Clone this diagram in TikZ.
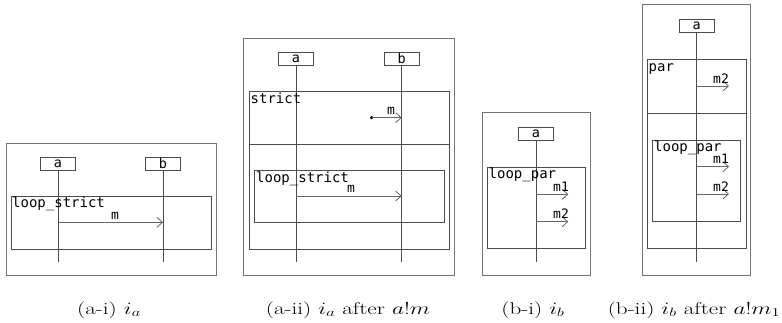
\documentclass[tikz,border=0pt]{standalone}
\usepackage{fontspec}
\usepackage{graphicx}
\newfontfamily\monof{DejaVu Sans Mono}
\usetikzlibrary{arrows.meta}
\newcommand{\capwide}[1]{\scalebox{1.36}[1]{#1}}
\begin{document}
\begin{tikzpicture}[x=1pt,y=-1pt,
  outer/.style={draw=black!55, line width=0.8pt},
  frame/.style={draw=black!70, line width=0.8pt},
  life/.style={draw=black!70, line width=0.8pt},
  obj/.style={draw=black!70, line width=0.8pt, minimum width=35pt, minimum height=13pt, inner sep=0pt, font=\monof\fontsize{13.5}{13.5}\selectfont},
  msg/.style={draw=black!60, line width=0.8pt, -{Straight Barb[length=5.5pt,width=10pt]}},
  mlabel/.style={font=\monof\fontsize{13}{13}\selectfont, inner sep=0pt, anchor=base},
  flabel/.style={font=\monof\fontsize{14}{14}\selectfont, inner sep=0pt, anchor=base west},
  captext/.style={font=\fontsize{17}{20}\selectfont, inner sep=0pt, anchor=base}]
\useasboundingbox (0,0) rectangle (782,323);

% ---------- (a-i)
\draw[outer] (6,143) rectangle (216,275);
\node[obj] (a1) at (58,163.7) {a};
\node[obj] (b1) at (163,163.7) {b};
\coordinate (a1e) at (58,262);
\coordinate (b1e) at (163,262);
\draw[life] (a1) -- (a1e);
\draw[life] (b1) -- (b1e);
\draw[frame] (11,196) rectangle (211,249);
\node[flabel] (f1) at (12,208) {loop\_strict};
\coordinate (s1) at (58,222.3);
\coordinate (t1) at (163,222.3);
\draw[msg] (s1) -- (t1);
\node[mlabel] (l1) at (115,219.3) {m};

% ---------- (a-ii)
\draw[outer] (243.3,38.3) rectangle (454,275);
\node[obj] (a2) at (296,58.7) {a};
\node[obj] (b2) at (401.7,58.7) {b};
\coordinate (a2e) at (296,261.7);
\coordinate (b2e) at (401.7,261.7);
\draw[life] (a2) -- (a2e);
\draw[life] (b2) -- (b2e);
\draw[frame] (249,91) rectangle (449.3,249);
\coordinate (sepL) at (249,144);
\coordinate (sepR) at (449.3,144);
\draw[frame] (sepL) -- (sepR);
\node[flabel] (f2) at (250.5,103.5) {strict};
\coordinate (s2) at (371.7,117.7);
\coordinate (t2) at (401.7,117.7);
\fill[black] (s2) circle (1.8);
\draw[msg] (s2) -- (t2);
\node[mlabel] (l2) at (391,114.7) {m};
\draw[frame] (254.3,170.7) rectangle (444.3,222.7);
\node[flabel] (f3) at (256,183) {loop\_strict};
\coordinate (s3) at (296,196);
\coordinate (t3) at (401.7,196);
\draw[msg] (s3) -- (t3);
\node[mlabel] (l3) at (351,193) {m};

% ---------- (b-i)
\draw[outer] (482.3,112.3) rectangle (590,275.7);
\node[obj] (a3) at (536,133.7) {a};
\coordinate (a3e) at (536,261.7);
\draw[life] (a3) -- (a3e);
\draw[frame] (487.3,167) rectangle (585,248.3);
\node[flabel] (f4) at (488.5,179) {loop\_par};
\coordinate (s4) at (536,194.3);
\coordinate (t4) at (568.3,194.3);
\draw[msg] (s4) -- (t4);
\node[mlabel] (l4) at (561,191.5) {m1};
\coordinate (s5) at (536,221.7);
\coordinate (t5) at (568.3,221.7);
\draw[msg] (s5) -- (t5);
\node[mlabel] (l5) at (561,218.9) {m2};

% ---------- (b-ii)
\draw[outer] (642.3,4.7) rectangle (750.7,275.7);
\node[obj] (a4) at (696.7,25.8) {a};
\coordinate (a4e) at (696.7,261.7);
\draw[life] (a4) -- (a4e);
\draw[frame] (647.3,59.3) rectangle (746,248.3);
\coordinate (sep2L) at (647.3,113.3);
\coordinate (sep2R) at (746,113.3);
\draw[frame] (sep2L) -- (sep2R);
\node[flabel] (f5) at (648.5,71.8) {par};
\coordinate (s6) at (696.7,86);
\coordinate (t6) at (729,86);
\draw[msg] (s6) -- (t6);
\node[mlabel] (l6) at (721,83.2) {m2};
\draw[frame] (652.7,140) rectangle (740.7,221);
\node[flabel] (f6) at (654,152) {loop\_par};
\coordinate (s7) at (696.7,166.7);
\coordinate (t7) at (729,166.7);
\draw[msg] (s7) -- (t7);
\node[mlabel] (l7) at (721,164) {m1};
\coordinate (s8) at (696.7,194);
\coordinate (t8) at (729,194);
\draw[msg] (s8) -- (t8);
\node[mlabel] (l8) at (721,191.2) {m2};

% ---------- captions
\node[captext] (c1) at (109,314) {\capwide{(a-i) $i_a$}};
\node[captext] (c2) at (348,314) {\capwide{(a-ii) $i_a$ after $a!m$}};
\node[captext] (c3) at (533,314) {\capwide{(b-i) $i_b$}};
\node[captext] (c4) at (694,314) {\capwide{(b-ii) $i_b$ after $a!m_1$}};
\end{tikzpicture}
\end{document}
